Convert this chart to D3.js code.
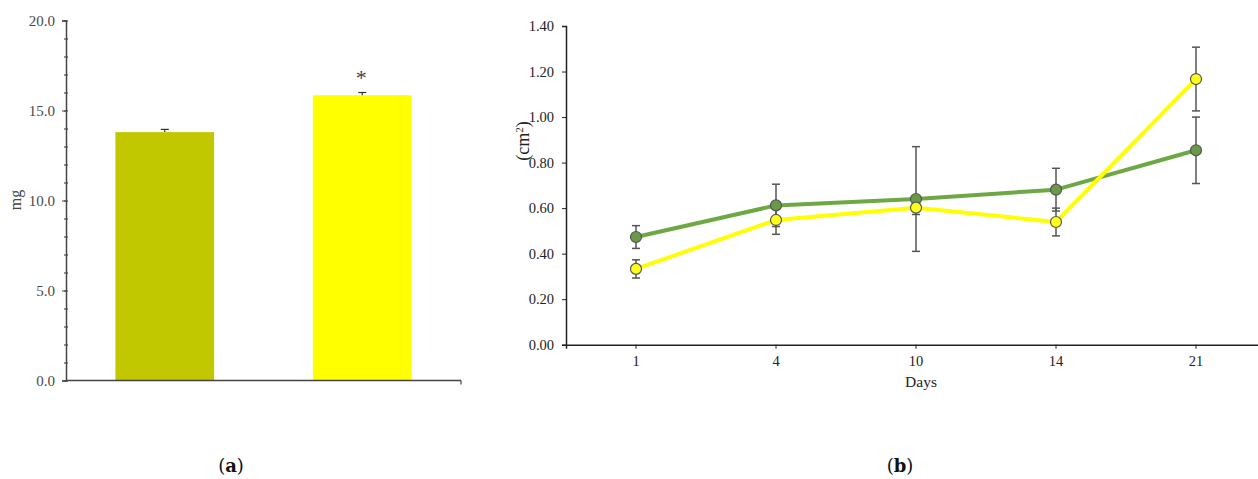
<!DOCTYPE html>
<html>
<head>
<meta charset="utf-8">
<script src="https://cdn.jsdelivr.net/npm/d3@7"></script>
<style>
  body { margin: 0; background: #fff; }
  svg { display: block; font-family: "Liberation Serif", "Times New Roman", serif; }
</style>
</head>
<body>
<svg id="chart"></svg>
<script>
// panel (a) data
const barGroups = ['A', 'B'];
const barValues = [13.8, 15.85];
const barErrors = [0.15, 0.15];
const barColors = ['#c1c800', '#ffff00'];

// panel (b) data
const days = ['1', '4', '10', '14', '21'];
const greenValues = [0.473, 0.612, 0.640, 0.681, 0.854];
const greenErrors = [0.05, 0.093, 0.23, 0.094, 0.146];
const yellowValues = [0.333, 0.548, 0.602, 0.539, 1.167];
const yellowErrors = [0.04, 0.063, 0.03, 0.061, 0.14];

const width = 1258;
const height = 479;

const svg = d3.select('#chart')
    .attr('width', width)
    .attr('height', height);

// ---------- panel (a) ----------
const xA = d3.scaleBand().domain(barGroups).range([66, 461]).paddingInner(0.5).paddingOuter(0.25);
const yA = d3.scaleLinear().domain([0, 20]).range([380.5, 20.5]);

const gA = svg.append('g');

gA.selectAll('rect.bar')
    .data(barValues)
    .enter()
    .append('rect')
        .attr('class', 'bar')
        .attr('x', (d, i) => xA(barGroups[i]))
        .attr('y', d => yA(d))
        .attr('width', xA.bandwidth())
        .attr('height', d => yA(0) - yA(d))
        .attr('fill', (d, i) => barColors[i]);

// error bars (upper only)
barValues.forEach((v, i) => {
    const cx = xA(barGroups[i]) + xA.bandwidth() / 2;
    gA.append('line')
        .attr('x1', cx).attr('x2', cx)
        .attr('y1', yA(v)).attr('y2', yA(v + barErrors[i]))
        .attr('stroke', '#333').attr('stroke-width', 1.2);
    gA.append('line')
        .attr('x1', cx - 4).attr('x2', cx + 4)
        .attr('y1', yA(v + barErrors[i])).attr('y2', yA(v + barErrors[i]))
        .attr('stroke', '#333').attr('stroke-width', 1.2);
});

// asterisk
gA.append('text')
    .attr('x', xA('B') + xA.bandwidth() / 2 - 1)
    .attr('y', yA(barValues[1] + barErrors[1]) - 8)
    .attr('text-anchor', 'middle')
    .attr('font-size', 22)
    .attr('fill', '#444')
    .text('*');

// minor ticks
gA.append('g')
    .attr('transform', `translate(66,0)`)
    .call(d3.axisLeft(yA).tickValues(d3.range(0, 21, 1)).tickSize(2).tickFormat(''))
    .call(g => g.select('.domain').remove())
    .call(g => g.selectAll('line').attr('stroke', '#333').attr('x2', 2).attr('x1', -2));

const yAxisA = gA.append('g')
    .attr('transform', `translate(66,0)`)
    .call(d3.axisLeft(yA).tickValues([0, 5, 10, 15, 20]).tickSize(4).tickPadding(7).tickFormat(d3.format('.1f')));
yAxisA.select('.domain').attr('stroke', '#444').attr('stroke-width', 1.5);
yAxisA.selectAll('line').attr('stroke', '#444');
yAxisA.selectAll('text').attr('font-size', 15).attr('fill', '#4a4a4a').attr('font-family', '"Liberation Serif", serif');

// x axis line
gA.append('line')
    .attr('x1', 66).attr('x2', 461)
    .attr('y1', yA(0)).attr('y2', yA(0))
    .attr('stroke', '#444').attr('stroke-width', 1.5);
gA.append('line')
    .attr('x1', 461).attr('x2', 461)
    .attr('y1', yA(0)).attr('y2', yA(0) + 4)
    .attr('stroke', '#444').attr('stroke-width', 1.2);

gA.append('text')
    .attr('transform', 'translate(21,200) rotate(-90)')
    .attr('text-anchor', 'middle')
    .attr('font-size', 16)
    .attr('fill', '#444')
    .text('mg');

// ---------- panel (b) ----------
const xB = d3.scaleBand().domain(days).range([566, 1266]);
const yB = d3.scaleLinear().domain([0, 1.4]).range([344.7, 26]);
const cxB = d => xB(d) + xB.bandwidth() / 2;

const gB = svg.append('g');

const yAxisB = gB.append('g')
    .attr('transform', 'translate(566,0)')
    .call(d3.axisLeft(yB).tickValues(d3.range(0, 1.41, 0.2)).tickSize(4).tickPadding(8).tickFormat(d3.format('.2f')));
yAxisB.select('.domain').attr('stroke', '#222').attr('stroke-width', 1.5);
yAxisB.selectAll('line').attr('stroke', '#222');
yAxisB.selectAll('text').attr('font-size', 14.5).attr('fill', '#222').attr('font-family', '"Liberation Serif", serif');

const xAxisB = gB.append('g')
    .attr('transform', `translate(0,${yB(0)})`)
    .call(d3.axisBottom(xB).tickSize(4).tickPadding(7));
xAxisB.select('.domain').attr('stroke', '#222').attr('stroke-width', 1.5);
xAxisB.selectAll('line').attr('stroke', '#222');
xAxisB.selectAll('text').attr('font-size', 14.5).attr('fill', '#222').attr('font-family', '"Liberation Serif", serif');

gB.append('text')
    .attr('x', 921).attr('y', 387)
    .attr('text-anchor', 'middle')
    .attr('font-size', 15.5)
    .attr('fill', '#222')
    .text('Days');

const yLab = gB.append('text')
    .attr('transform', 'translate(529,141) rotate(-90)')
    .attr('text-anchor', 'middle')
    .attr('font-size', 18)
    .attr('fill', '#222');
yLab.append('tspan').text('(cm');
yLab.append('tspan').attr('baseline-shift', 'super').attr('font-size', 11).text('2');
yLab.append('tspan').text(')');

const series = [
    { values: greenValues, errors: greenErrors, line: '#6ea844', fill: '#6a9a48' },
    { values: yellowValues, errors: yellowErrors, line: '#ffff00', fill: '#ffff1a' }
];

const lineGen = d3.line()
    .x((d, i) => cxB(days[i]))
    .y(d => yB(d));

series.forEach(s => {
    gB.append('path')
        .datum(s.values)
        .attr('d', lineGen)
        .attr('fill', 'none')
        .attr('stroke', s.line)
        .attr('stroke-width', 4)
        .attr('stroke-linejoin', 'round');
});

// error bars
series.forEach(s => {
    s.values.forEach((v, i) => {
        const x = cxB(days[i]);
        const top = yB(v + s.errors[i]);
        const bot = yB(v - s.errors[i]);
        gB.append('line')
            .attr('x1', x).attr('x2', x).attr('y1', top).attr('y2', bot)
            .attr('stroke', '#555').attr('stroke-width', 1.5);
        [top, bot].forEach(y => {
            gB.append('line')
                .attr('x1', x - 4).attr('x2', x + 4).attr('y1', y).attr('y2', y)
                .attr('stroke', '#555').attr('stroke-width', 1.5);
        });
    });
});

// markers
series.forEach(s => {
    gB.selectAll(null)
        .data(s.values)
        .enter()
        .append('circle')
            .attr('cx', (d, i) => cxB(days[i]))
            .attr('cy', d => yB(d))
            .attr('r', 5.5)
            .attr('fill', s.fill)
            .attr('stroke', '#555')
            .attr('stroke-width', 1.2);
});

// captions
const cap = svg.append('g')
    .attr('font-family', '"DejaVu Serif", "Liberation Serif", serif')
    .attr('font-size', 18)
    .attr('fill', '#111');
[['a', 231], ['b', 900]].forEach(([t, x]) => {
    const txt = cap.append('text').attr('x', x).attr('y', 472).attr('text-anchor', 'middle');
    txt.append('tspan').text('(');
    txt.append('tspan').attr('font-weight', 'bold').text(t);
    txt.append('tspan').text(')');
});
</script>
</body>
</html>
